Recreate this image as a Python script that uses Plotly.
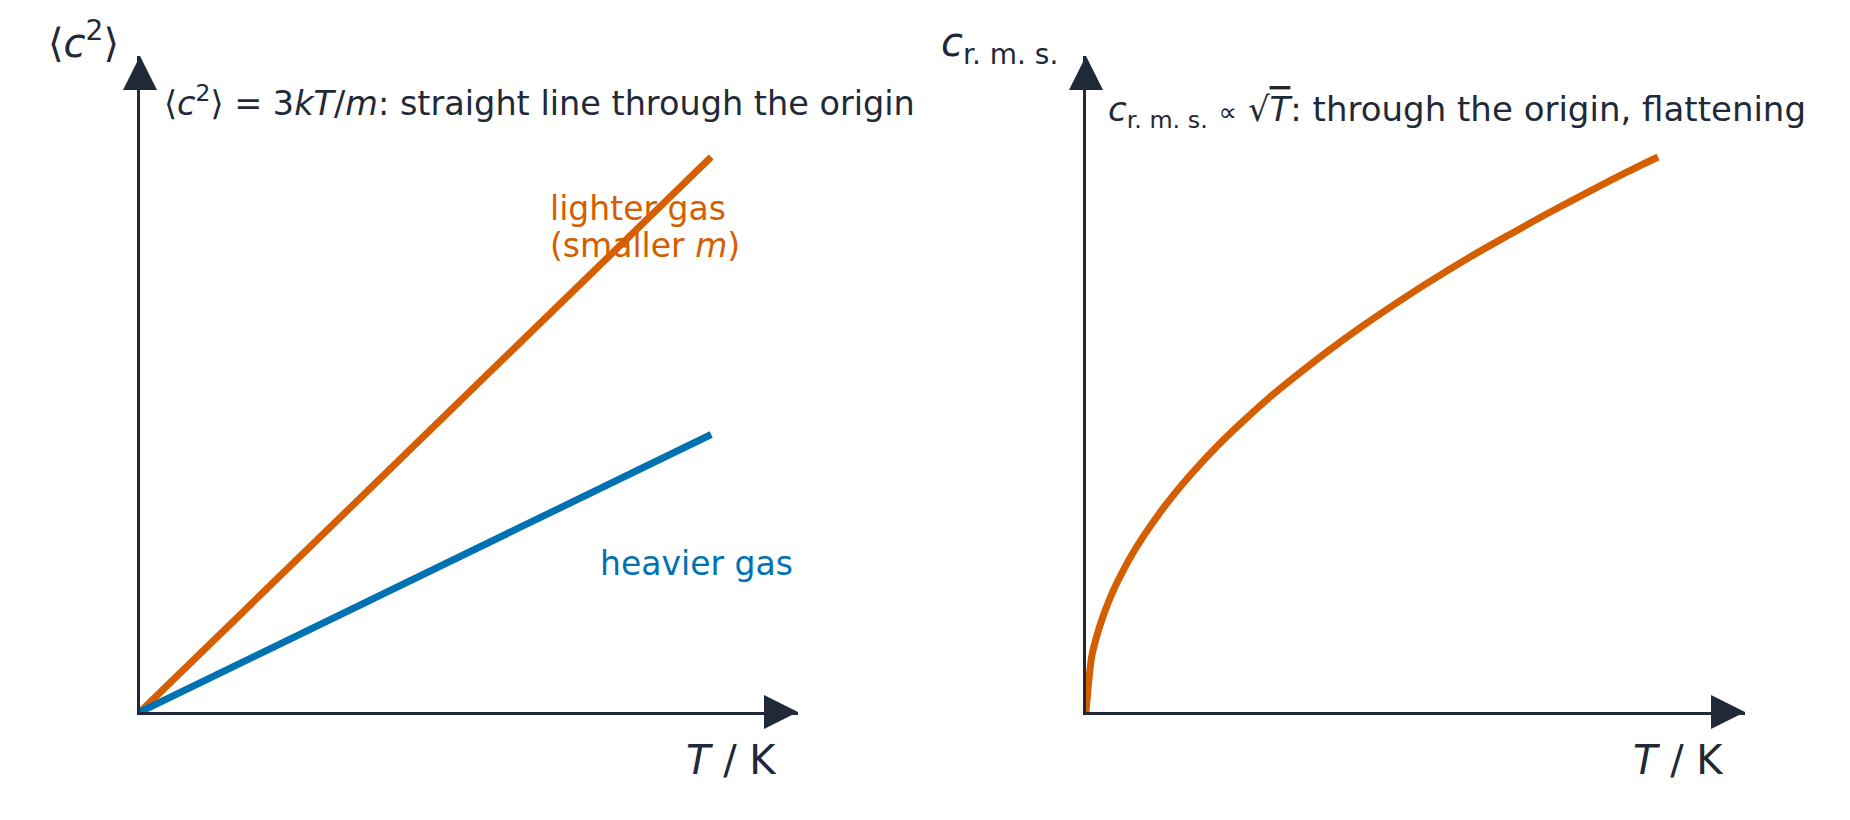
import plotly.graph_objects as go

# values (T normalised to 1 at the right end of each curve)
T_lin = [0, 1.0]
c2_light = [0, 1.0]
c2_heavy = [0, 0.5]

T_rms = [0, 0.01, 0.02, 0.03, 0.04, 0.05, 0.06, 0.08, 0.10, 0.12, 0.14, 0.17, 0.20,
         0.24, 0.28, 0.32, 0.37, 0.42, 0.48, 0.54, 0.60, 0.67, 0.74, 0.81, 0.88, 0.94, 1.0]
c_rms = [0, 0.10, 0.141, 0.173, 0.20, 0.224, 0.245, 0.283, 0.316, 0.346, 0.374, 0.412, 0.447,
         0.49, 0.529, 0.566, 0.608, 0.648, 0.693, 0.735, 0.775, 0.819, 0.86, 0.90, 0.938, 0.97, 1.0]

ORANGE = "#d55e00"
BLUE = "#0072b2"
INK = "#1f2937"
W, H = 1850, 820

XMAX = 1.152
YMAX = 1.182


def px(x):
    return x / W


def py(y):
    return (H - y) / H


fig = go.Figure()
fig.add_trace(go.Scatter(x=T_lin, y=c2_light, mode="lines",
                         line=dict(color=ORANGE, width=7), xaxis="x", yaxis="y"))
fig.add_trace(go.Scatter(x=T_lin, y=c2_heavy, mode="lines",
                         line=dict(color=BLUE, width=7), xaxis="x", yaxis="y"))
fig.add_trace(go.Scatter(x=T_rms, y=c_rms, mode="lines",
                         line=dict(color=ORANGE, width=7, shape="spline", smoothing=0.8),
                         xaxis="x2", yaxis="y2"))

ax = dict(showline=True, linewidth=3, linecolor=INK, showgrid=False, zeroline=False,
          showticklabels=False, ticks="", fixedrange=True)
fig.update_layout(
    width=W, height=H,
    margin=dict(l=0, r=0, t=0, b=0),
    paper_bgcolor="white", plot_bgcolor="white",
    showlegend=False,
    font=dict(family="DejaVu Sans", color=INK, size=33),
    xaxis=dict(ax, domain=[px(132), px(790)], range=[0, XMAX], anchor="y"),
    yaxis=dict(ax, domain=[py(704), py(48)], range=[0, YMAX], anchor="x"),
    xaxis2=dict(ax, domain=[px(1078), px(1737)], range=[0, XMAX], anchor="y2"),
    yaxis2=dict(ax, domain=[py(704), py(48)], range=[0, YMAX], anchor="x2"),
)

# arrow heads on the axes (paper refs so they are not clipped)
for x0, x1 in ((132, 790), (1078, 1737)):
    fig.add_shape(type="path", xref="paper", yref="paper", xsizemode="pixel", ysizemode="pixel",
                  xanchor=px(x1), yanchor=py(704), path="M -34,-17 L -34,17 L 0,0 Z",
                  fillcolor=INK, line=dict(width=0))
    fig.add_shape(type="path", xref="paper", yref="paper", xsizemode="pixel", ysizemode="pixel",
                  xanchor=px(x0), yanchor=py(48), path="M -17,-34 L 17,-34 L 0,0 Z",
                  fillcolor=INK, line=dict(width=0))

big = dict(family="DejaVu Sans", size=40, color=INK)
notes = [
    dict(text="⟨<i>c</i><sup>2</sup>⟩", x=px(113), y=py(32), xanchor="right", font=big),
    dict(text="<i>c</i><sub>r. m. s.</sub>", x=px(1052), y=py(37), xanchor="right", font=big),
    dict(text="<i>T</i> / K", x=px(771), y=py(752), xanchor="right", font=big),
    dict(text="<i>T</i> / K", x=px(1718), y=py(752), xanchor="right", font=big),
    dict(text="⟨<i>c</i><sup>2</sup>⟩ = 3<i>kT</i>/<i>m</i>: straight line through the origin",
         x=px(154), y=py(93), xanchor="left", font=dict(size=33.5)),
    dict(text="<i>c</i><sub>r. m. s.</sub> <span style='font-size:26px'>∝</span> "
              "√<span style='text-decoration:overline'><i>T</i></span>: through the origin, flattening",
         x=px(1098), y=py(103), xanchor="left", font=dict(size=34)),
    dict(text="lighter gas", x=px(540), y=py(200), xanchor="left", font=dict(color=ORANGE)),
    dict(text="(smaller <i>m</i>)", x=px(540), y=py(237), xanchor="left", font=dict(color=ORANGE)),
    dict(text="heavier gas", x=px(590), y=py(555), xanchor="left", font=dict(color=BLUE)),
]
for n in notes:
    fig.add_annotation(xref="paper", yref="paper", yanchor="middle", showarrow=False, **n)

fig.write_html("out.html")
